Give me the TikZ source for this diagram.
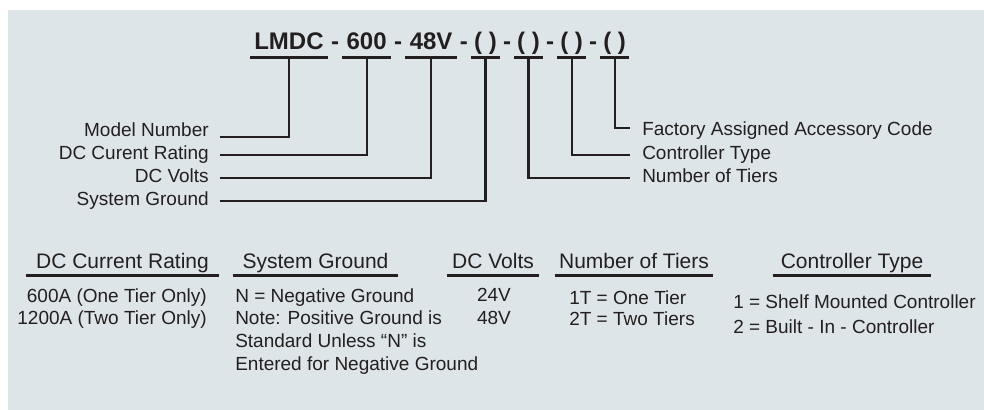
\documentclass[tikz,border=0pt]{standalone}
\usepackage{fontspec}
\setmainfont{Liberation Sans}
\usepackage{xcolor}
\usepackage{tikz}
\usetikzlibrary{positioning}
\definecolor{panel}{RGB}{221,229,232}
\definecolor{ink}{RGB}{35,31,32}

\begin{document}
\begin{tikzpicture}[x=0.75pt,y=-0.75pt,color=ink,
  part/.style={font=\bfseries\fontsize{18pt}{20pt}\selectfont,inner xsep=3pt,inner ysep=3.75pt,text height=0.75em,text depth=0.25em},
  slot/.style={part,inner xsep=2pt},
  hyph/.style={part,inner xsep=2.25pt},
  lbl/.style={font=\fontsize{14.25pt}{17pt}\selectfont,text height=0.72em,text depth=0pt,inner ysep=0pt},
  hdr/.style={font=\fontsize{15.75pt}{18pt}\selectfont,text height=0.72em,text depth=0pt,inner xsep=0pt,inner ysep=4.9pt},
  body/.style={font=\fontsize{14.25pt}{17pt}\selectfont,inner sep=0pt},
  bar/.style={line width=2.25pt},
  conn/.style={line width=1.6pt},
  uline/.style={line width=1.7pt}]
\fill[panel] (8,10) rectangle (984,410);
\useasboundingbox (0,0) rectangle (984,410);

\node[part,anchor=south west] (p1) at (250,58) {LMDC};
\node[hyph,right=0pt of p1] (h1) {-};
\node[part,right=0pt of h1] (p2) {600};
\node[hyph,right=0pt of p2] (h2) {-};
\node[part,right=0pt of h2] (p3) {48V};
\node[hyph,right=0pt of p3] (h3) {-};
\node[slot,right=0pt of h3] (p4) {( )};
\node[hyph,right=0pt of p4] (h4) {-};
\node[slot,right=0pt of h4] (p5) {( )};
\node[hyph,right=0pt of p5] (h5) {-};
\node[slot,right=0pt of h5] (p6) {( )};
\node[hyph,right=0pt of p6] (h6) {-};
\node[slot,right=0pt of h6] (p7) {( )};
\foreach \i in {1,...,7}
  \draw[bar] (p\i.south west) -- (p\i.south east);

\node[lbl,anchor=east,inner xsep=8.25pt] (mn) at (220,132) {Model Number};
\node[lbl,anchor=east,inner xsep=8.25pt] (dcr) at (220,155) {DC Curent Rating};
\node[lbl,anchor=east,inner xsep=8.25pt] (dcv) at (220,178) {DC Volts};
\node[lbl,anchor=east,inner xsep=8.25pt] (sg) at (220,201) {System Ground};
\node[lbl,anchor=west,inner xsep=9pt] (fac) at (630,131) {Factory Assigned Accessory Code};
\node[lbl,anchor=west,inner xsep=9pt] (ct) at (630,155) {Controller Type};
\node[lbl,anchor=west,inner xsep=9pt] (nt) at (630,178) {Number of Tiers};

\draw[conn] (p1.south) |- ([yshift=-3.75pt]mn.east);
\draw[conn] (p2.south) |- (dcr.east);
\draw[conn] (p3.south) |- (dcv.east);
\draw[conn] (p4.south) |- (sg.east);
\draw[conn] (p5.south) |- (nt.west);
\draw[conn] (p6.south) |- (ct.west);
\draw[conn] (p7.south) |- ([yshift=2.25pt]fac.west);

\node[hdr,minimum width=144.75pt] (hdcr) at (122.5,264) {DC Current Rating};
\node[hdr,minimum width=123.75pt] (hsg) at (315.5,264) {System Ground};
\node[hdr,minimum width=69pt] (hdcv) at (493,264) {DC Volts};
\node[hdr,minimum width=118.5pt] (hnt) at (634,264) {Number of Tiers};
\node[hdr,minimum width=118.5pt] (hct) at (852,264) {Controller Type};
\foreach \n in {hdcr,hsg,hdcv,hnt,hct}
  \draw[uline] (\n.south west) -- (\n.south east);

\node[body,align=right,anchor=north east] (bdcr) at (207,288)
  {600A (One Tier Only)\\1200A (Two Tier Only)};
\node[body,align=left,anchor=north west] (bsg) at (235,288)
  {N = Negative Ground\\Note: Positive Ground is\\Standard Unless “N” is\\Entered for Negative Ground};
\node[body,align=center,anchor=north] (bdcv) at (494,288) {24V\\48V};
\node[body,align=left,anchor=north west] (bnt) at (569,290) {1T = One Tier\\[-1.2pt]2T = Two Tiers};
\node[body,align=left,anchor=north west] (bct) at (733,294.5)
  {1 = Shelf Mounted Controller\\[1.4pt]2 = Built - In - Controller};
\end{tikzpicture}
\end{document}
